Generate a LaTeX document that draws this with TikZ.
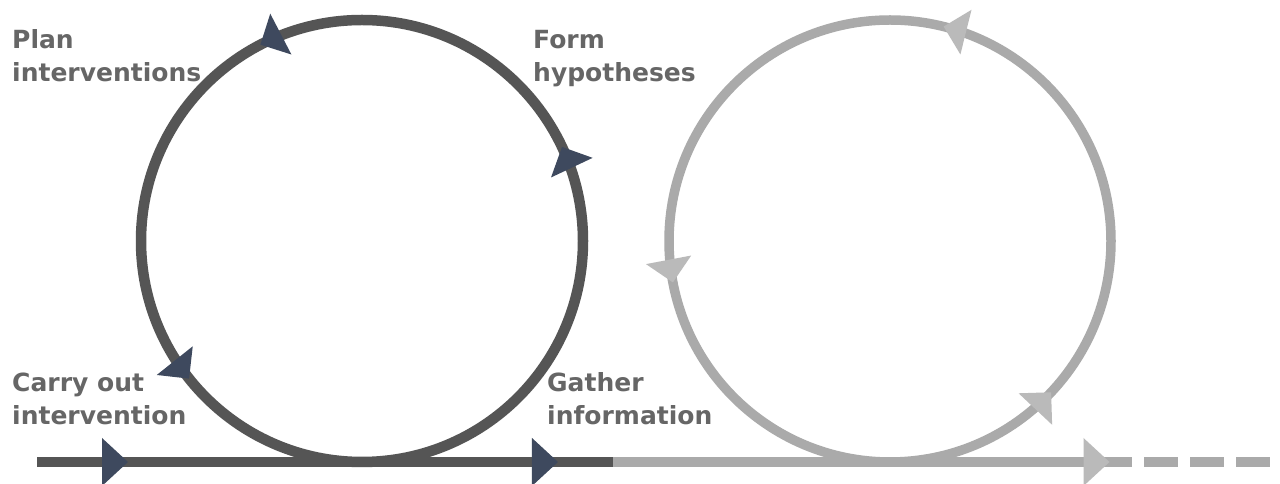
\documentclass[tikz,border=0pt]{standalone}
\usepackage{fontspec}
\setmainfont{DejaVu Sans}
\usetikzlibrary{arrows.meta,decorations.markings}
\definecolor{darkline}{RGB}{85,85,85}
\definecolor{darktip}{RGB}{62,73,94}
\definecolor{lightline}{RGB}{170,170,170}
\definecolor{lighttip}{RGB}{186,186,186}
\definecolor{labeltext}{RGB}{102,102,102}
\tikzset{
  lbl/.style={anchor=base west, align=left, inner sep=0pt, text=labeltext,
    font=\fontsize{25}{33}\selectfont\bfseries},
  darkpath/.style={draw=darkline, line width=10.5pt},
  lightpath/.style={draw=lightline, line width=9.5pt},
}
\begin{document}
\begin{tikzpicture}[x=1pt,y=1pt]
\useasboundingbox (0,0) rectangle (1280,484);
\fill[white] (0,0) rectangle (1280,484);
% coordinates
\coordinate (ls) at (37,22);
\coordinate (mid) at (613,22);
\coordinate (le) at (1110,22);
\coordinate (de) at (1270,22);
\coordinate (c1) at (362,243);
\coordinate (c2) at (890,243);
% dark circle
\draw[darkpath, postaction={decorate}, decoration={markings,
  mark=at position 0.32 with {\arrow{Triangle[width=46pt,length=23pt,line width=0pt,color=darktip]}},
  mark=at position 0.576 with {\arrow{Triangle[width=46pt,length=23pt,line width=0pt,color=darktip]}},
  mark=at position 0.857 with {\arrow{Triangle[width=46pt,length=23pt,line width=0pt,color=darktip]}}}]
  ([yshift=-221pt]c1) arc[start angle=-90, end angle=270, radius=221pt];
% light circle
\draw[lightpath, postaction={decorate}, decoration={markings,
  mark=at position 0.13 with {\arrow{Triangle[width=46pt,length=23pt,line width=0pt,color=lighttip]}},
  mark=at position 0.461 with {\arrow{Triangle[width=46pt,length=23pt,line width=0pt,color=lighttip]}},
  mark=at position 0.78 with {\arrow{Triangle[width=46pt,length=23pt,line width=0pt,color=lighttip]}}}]
  ([yshift=-221pt]c2) arc[start angle=-90, end angle=270, radius=221pt];
% baseline
\draw[darkpath, postaction={decorate}, decoration={markings,
  mark=at position 0.158 with {\arrow{Triangle[width=48pt,length=26pt,line width=0pt,color=darktip]}},
  mark=at position 0.9045 with {\arrow{Triangle[width=48pt,length=26pt,line width=0pt,color=darktip]}}}]
  (ls) -- (mid);
\draw[lightpath, line width=10pt, postaction={decorate}, decoration={markings,
  mark=at position 0.999 with {\arrow{Triangle[width=48pt,length=26pt,line width=0pt,color=lighttip]}}}]
  (mid) -- (le);
\draw[lightpath, line width=10pt, dash pattern=on 34pt off 12pt, dash phase=12pt] (le) -- (de);
% labels
\node[lbl] (plan) at (12,402) {Plan\\interventions};
\node[lbl] (form) at (533,402) {Form\\hypotheses};
\node[lbl] (carry) at (12,59) {Carry out\\intervention};
\node[lbl] (gather) at (547,59) {Gather\\information};
\end{tikzpicture}
\end{document}
